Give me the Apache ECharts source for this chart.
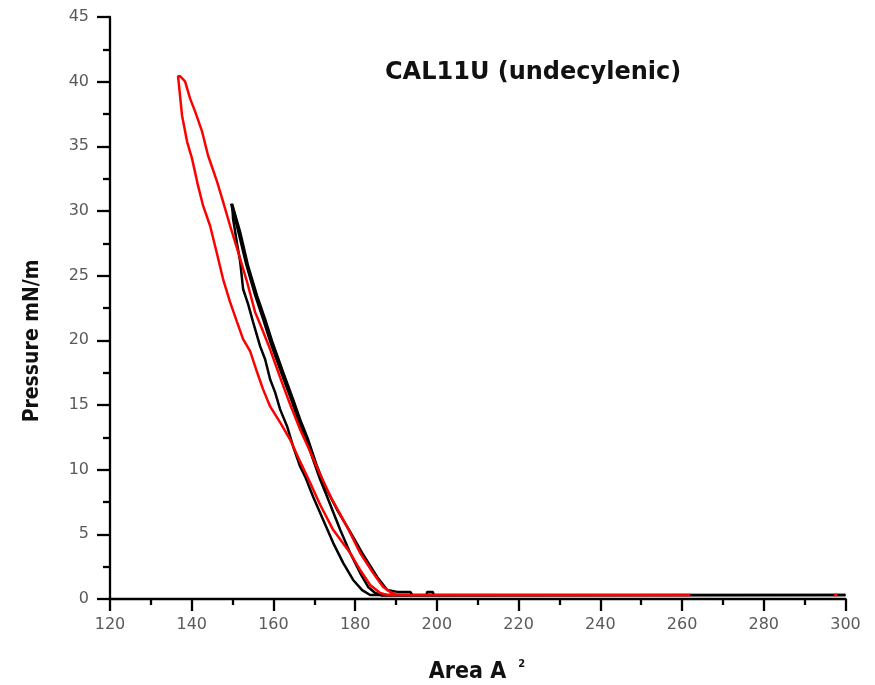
<!DOCTYPE html>
<html>
<head>
<meta charset="utf-8">
<script src="https://cdn.jsdelivr.net/npm/echarts@6/dist/echarts.min.js"></script>
<style>html,body{margin:0;padding:0;background:#fff}#c{width:875px;height:685px}</style>
</head>
<body>
<div id="c"></div>
<script>
// ---- data (Area in Å², Pressure in mN/m) ----
var titleText = 'CAL11U (undecylenic)';
var xTicks = [120, 300, 20];
var yTicks = [0, 45, 5];

// red cycle: compression (right branch) then expansion (left branch)
var redCompression = [[262,0.3],[190.3,0.3],[188.57,0.54],[186.86,0.93],[184.41,2.01],[181.22,3.56],[178.04,5.58],[174.37,7.68],[171.43,9.62],[168.98,11.40],[166.53,13.11],[164.08,15.05],[161.63,17.14],[159.18,19.31],[157.22,20.87],[155.51,22.18],[153.55,24.51],[151.35,26.84],[149.39,28.86],[147.67,30.72],[146.20,32.27],[144.00,34.29],[142.53,36.15],[140.82,37.70],[139.59,38.71],[138.37,40.03],[137.14,40.42]];
var redExpansion = [[136.65,40.42],[137.63,37.39],[138.86,35.37],[140.08,34.05],[141.55,31.96],[142.78,30.41],[144.49,28.86],[146.20,26.68],[147.67,24.74],[149.39,22.96],[151.10,21.41],[152.57,20.09],[154.29,19.16],[156.00,17.53],[157.47,16.21],[159.18,14.89],[161.63,13.65],[164.08,12.33],[166.53,10.62],[168.98,8.99],[171.43,7.29],[174.61,5.35],[178.78,3.56],[181.22,2.24],[183.67,1.08],[186.12,0.46],[188.1,0.3],[240,0.3]];
var redStart = [[297.2,0.3],[298,0.3]];

// black cycles
var blackCompression1 = [[300,0.3],[199.2,0.3],[199,0.55],[197.6,0.55],[197.5,0.3],[194,0.3],[193.5,0.55],[190.3,0.55],[187.84,0.69],[185.39,1.70],[181.71,3.56],[178.78,5.19],[175.59,6.90],[172.65,8.68],[170.69,10.24],[168.49,12.33],[166.53,13.88],[164.82,15.43],[162.37,17.53],[159.67,19.93],[157.96,21.64],[156.00,23.43],[153.80,25.75],[151.84,28.39],[149.88,30.56]];
var blackExpansion = [[149.63,30.41],[150.12,29.40],[151.10,27.46],[151.84,26.14],[152.57,23.97],[153.80,22.80],[155.02,21.41],[156.73,19.55],[157.96,18.54],[159.18,16.99],[160.41,15.98],[161.63,14.66],[163.35,13.34],[164.82,11.79],[166.53,10.24],[167.76,9.46],[169.71,7.91],[172.16,6.12],[174.61,4.34],[177.06,2.79],[179.51,1.47],[181.71,0.69],[183.67,0.31],[300,0.3]];
var blackCompression2 = [[300,0.3],[186.61,0.27],[184.90,0.46],[183.18,0.93],[181.22,2.01],[178.78,3.56],[176.33,5.35],[173.14,7.91],[171.43,9.23],[169.96,10.55],[168.00,12.33],[166.04,13.88],[164.33,15.43],[161.88,17.53],[159.18,19.93],[157.47,21.64],[155.51,23.50],[153.31,25.91],[151.35,28.47],[149.63,30.56]];

var chart = echarts.init(document.getElementById('c'), null, {renderer: 'canvas'});
var axisFont = {fontFamily: 'DejaVu Sans', fontSize: 16, color: '#5a5a5a'};
var titleFont = "'DejaVu Sans Condensed', 'DejaVu Sans'";
function lineSeries(data, color) {
  return {type: 'line', data: data, showSymbol: false, symbol: 'none', animation: false,
    lineStyle: {color: color, width: 2.5}, z: color === '#ff0000' ? 3 : 2};
}
chart.setOption({
  animation: false,
  backgroundColor: '#fff',
  grid: {left: 110, right: 29.5, top: 17, bottom: 86},
  xAxis: {
    type: 'value', min: xTicks[0], max: xTicks[1], interval: xTicks[2],
    axisLine: {show: true, onZero: false, lineStyle: {color: '#000', width: 2.3}},
    axisTick: {show: true, inside: false, length: 12, lineStyle: {color: '#000', width: 2.3}},
    minorTick: {show: true, splitNumber: 2, length: 6, lineStyle: {color: '#000', width: 2.3}},
    splitLine: {show: false},
    axisLabel: Object.assign({margin: 18}, axisFont)
  },
  yAxis: {
    type: 'value', min: yTicks[0], max: yTicks[1], interval: yTicks[2],
    axisLine: {show: true, onZero: false, lineStyle: {color: '#000', width: 2.3}},
    axisTick: {show: true, inside: false, length: 13, lineStyle: {color: '#000', width: 2.3}},
    minorTick: {show: true, splitNumber: 2, length: 7, lineStyle: {color: '#000', width: 2.3}},
    splitLine: {show: false},
    axisLabel: Object.assign({margin: 21}, axisFont)
  },
  series: [
    lineSeries(blackCompression2, '#000000'),
    lineSeries(blackCompression1.concat(blackExpansion), '#000000'),
    lineSeries(redCompression.concat(redExpansion), '#ff0000'),
    lineSeries(redStart, '#ff0000')
  ],
  graphic: [
    {type: 'text', left: 385, top: 61, style: {text: titleText, fontFamily: 'DejaVu Sans', fontWeight: 'bold', fontSize: 24, fill: '#111'}},
    {type: 'text', x: 33, y: 341, rotation: Math.PI / 2, style: {text: 'Pressure mN/m', fontFamily: titleFont, fontWeight: 'bold', fontSize: 21, fill: '#111', align: 'center', verticalAlign: 'middle'}},
    {type: 'text', x: 477, y: 672, style: {text: 'Area A{s|2}', fontFamily: titleFont, fontWeight: 'bold', fontSize: 23, fill: '#111', align: 'center', verticalAlign: 'middle',
      rich: {s: {fontFamily: titleFont, fontWeight: 'bold', fontSize: 11, fill: '#111', verticalAlign: 'top', padding: [0, 0, 16, 12]}}}}
  ]
});
</script>
</body>
</html>
